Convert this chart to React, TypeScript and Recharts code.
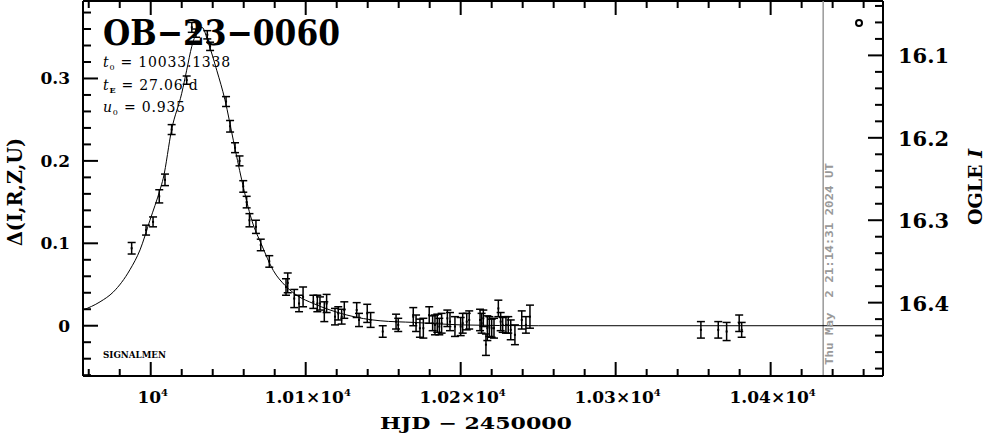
import React from "react";
import {
  ComposedChart,
  Line,
  Scatter,
  ErrorBar,
  XAxis,
  YAxis,
  ReferenceLine,
} from "recharts";

// observed points: HJD-2450000, delta flux, error
const obsT = [
  9987.7, 9997.0, 10001.5, 10005.5, 10009.2, 10013.5, 10023.2, 10026.5, 10029.2, 10036.5,
  10038.3, 10048.6, 10051.2, 10054.4, 10057.3, 10059.7, 10061.9, 10063.7, 10067.9, 10071.0,
  10076.5, 10087.3, 10088.4, 10092.6, 10095.7, 10098.3, 10104.9, 10107.5, 10109.2, 10112.0,
  10113.5, 10118.9, 10121.0, 10123.2, 10124.9, 10132.9, 10134.4, 10139.7, 10141.9, 10149.7,
  10158.3, 10159.7, 10169.4, 10171.2, 10173.7, 10175.9, 10179.7, 10181.9, 10183.4, 10184.9,
  10186.2, 10187.7, 10191.4, 10193.1, 10196.3, 10200.0, 10201.3, 10203.9, 10205.5, 10212.5,
  10213.5, 10214.6, 10216.3, 10217.2, 10218.5, 10220.0, 10221.5, 10224.3, 10225.8, 10227.1,
  10229.2, 10230.7, 10232.3, 10235.0, 10239.4, 10242.1, 10244.7, 10355.0, 10366.2, 10371.6,
  10379.7, 10381.3,
];
const obsD = [
  0.094, 0.116, 0.126, 0.157, 0.177, 0.238, 0.298, 0.362, 0.355, 0.353,
  0.339, 0.272, 0.242, 0.216, 0.2, 0.169, 0.15, 0.128, 0.12, 0.098,
  0.078, 0.047, 0.052, 0.033, 0.027, 0.035, 0.029, 0.027, 0.027, 0.017,
  0.027, 0.011, 0.015, 0.011, 0.019, 0.019, 0.007, 0.015, 0.007, -0.007,
  0.005, 0.001, 0.011, 0.003, -0.003, -0.003, 0.013, 0.003, 0.001, 0.003,
  -0.001, 0.003, 0.009, 0.005, -0.001, -0.001, 0.003, 0.005, 0.007, 0.007,
  0.003, 0.009, -0.023, -0.003, -0.001, -0.003, -0.003, 0.021, 0.005, 0.001,
  0.001, 0.001, -0.005, -0.011, 0.007, 0.001, 0.011, -0.005, -0.005, -0.007,
  0.003, -0.005,
];
const obsE = [
  0.007, 0.006, 0.006, 0.008, 0.007, 0.006, 0.005, 0.006, 0.005, 0.005,
  0.005, 0.006, 0.007, 0.006, 0.006, 0.007, 0.007, 0.008, 0.008, 0.007,
  0.007, 0.01, 0.012, 0.011, 0.01, 0.012, 0.008, 0.01, 0.008, 0.012,
  0.011, 0.01, 0.008, 0.009, 0.01, 0.009, 0.008, 0.011, 0.009, 0.007,
  0.009, 0.008, 0.011, 0.01, 0.011, 0.012, 0.01, 0.009, 0.012, 0.011,
  0.01, 0.012, 0.01, 0.011, 0.012, 0.011, 0.012, 0.01, 0.011, 0.013,
  0.012, 0.01, 0.013, 0.015, 0.012, 0.011, 0.012, 0.01, 0.011, 0.009,
  0.01, 0.01, 0.012, 0.012, 0.011, 0.01, 0.014, 0.01, 0.01, 0.011,
  0.01, 0.009,
];

// model curve
const modelT = [
  9956.3, 9967.3, 9975.9, 9986.6, 9993.1, 9999.5, 10006, 10008.1, 10013.5, 10020,
  10023.2, 10026.5, 10030.7, 10033.1, 10037.2, 10042.6, 10047.9, 10053.3, 10058.7, 10065.2,
  10071.6, 10079.1, 10086.6, 10095, 10104.9, 10126.5, 10148, 10170, 10200, 10250, 10472.5,
];
const modelD = [
  0.019, 0.029, 0.041, 0.068, 0.092, 0.128, 0.165, 0.179, 0.238, 0.282,
  0.31, 0.339, 0.359, 0.362, 0.343, 0.31, 0.274, 0.225, 0.177, 0.128,
  0.098, 0.067, 0.049, 0.036, 0.027, 0.013, 0.006, 0.004, 0.001, 0, 0,
];

const xTicks = [
  9960, 9980, 10000, 10020, 10040, 10060, 10080, 10100, 10120, 10140, 10160, 10180, 10200,
  10220, 10240, 10260, 10280, 10300, 10320, 10340, 10360, 10380, 10400, 10420, 10440, 10460,
];
const leftTicks = [
  -0.06, -0.04, -0.02, 0, 0.02, 0.04, 0.06, 0.08, 0.1, 0.12, 0.14, 0.16, 0.18, 0.2, 0.22,
  0.24, 0.26, 0.28, 0.3, 0.32, 0.34, 0.36, 0.38,
];
const rightTicks = [
  16.04, 16.06, 16.08, 16.1, 16.12, 16.14, 16.16, 16.18, 16.2, 16.22, 16.24, 16.26, 16.28,
  16.3, 16.32, 16.34, 16.36, 16.38, 16.4, 16.42, 16.44, 16.46, 16.48,
];

const W = 986;
const H = 434;
const PLOT = { left: 83, right: 883, top: 1, bottom: 376 };
const X_DOMAIN = [9956.3, 10472.5];
const Y_DOMAIN = [-0.061, 0.394];
const MAG_DOMAIN = [16.034, 16.489];
const SERIF = "'DejaVu Serif', serif";

const obs = obsT.map((t, i) => ({ t, d: obsD[i], e: obsE[i] }));
const model = modelT.map((t, i) => ({ t, d: modelD[i] }));

const isMajor = (v: number, step: number) =>
  Math.abs(v / step - Math.round(v / step)) < 1e-6;

function XTick({ x, payload }: any) {
  const v = payload.value;
  const major = isMajor(v, 100);
  const len = major ? 14 : 7;
  const mant = v === 10000 ? "10" : (v / 10000).toFixed(2) + "\u00d710";
  return (
    <g>
      <line x1={x} x2={x} y1={PLOT.bottom} y2={PLOT.bottom - len} stroke="#000" strokeWidth={2} />
      <line x1={x} x2={x} y1={PLOT.top} y2={PLOT.top + len} stroke="#000" strokeWidth={2} />
      {major && (
        <text x={x + 2} y={403} textAnchor="middle" fontFamily={SERIF} fontWeight="bold" fontSize={17} fill="#000">
          {mant}
          <tspan fontSize={10} dy={-7}>4</tspan>
        </text>
      )}
    </g>
  );
}

function LeftTick({ y, payload }: any) {
  const v = payload.value;
  const major = isMajor(v, 0.1);
  const len = major ? 15 : 8;
  return (
    <g>
      <line x1={PLOT.left} x2={PLOT.left + len} y1={y} y2={y} stroke="#000" strokeWidth={2} />
      {major && (
        <text x={70} y={y + 6} textAnchor="end" fontFamily={SERIF} fontWeight="bold" fontSize={17} fill="#000">
          {Math.abs(v) < 1e-9 ? "0" : v.toFixed(1)}
        </text>
      )}
    </g>
  );
}

function RightTick({ y, payload }: any) {
  const v = payload.value;
  const major = isMajor(v, 0.1);
  const len = major ? 15 : 8;
  return (
    <g>
      <line x1={PLOT.right - len} x2={PLOT.right} y1={y} y2={y} stroke="#000" strokeWidth={2} />
      {major && (
        <text x={898} y={y + 8} textAnchor="start" fontFamily={SERIF} fontWeight="bold" fontSize={21} fill="#000">
          {v.toFixed(1)}
        </text>
      )}
    </g>
  );
}

function PointMark({ cx, cy }: any) {
  return <rect x={cx - 1} y={cy - 1} width={2} height={2} fill="#000" />;
}

export default function App() {
  return (
    <div style={{ position: "absolute", left: 0, top: 0, width: W, height: H, background: "#fff" }}>
      <ComposedChart width={W} height={H} margin={{ top: PLOT.top, right: 0, bottom: 0, left: 0 }}>
        <XAxis
          dataKey="t"
          type="number"
          domain={X_DOMAIN}
          allowDataOverflow
          ticks={xTicks}
          interval={0}
          height={H - PLOT.bottom}
          tick={<XTick />}
          tickLine={false}
          axisLine={{ stroke: "#000", strokeWidth: 2 }}
        />
        <YAxis
          yAxisId="left"
          type="number"
          domain={Y_DOMAIN}
          allowDataOverflow
          ticks={leftTicks}
          interval={0}
          width={PLOT.left}
          tick={<LeftTick />}
          tickLine={false}
          axisLine={{ stroke: "#000", strokeWidth: 2 }}
        />
        <YAxis
          yAxisId="right"
          orientation="right"
          type="number"
          domain={MAG_DOMAIN}
          reversed
          allowDataOverflow
          ticks={rightTicks}
          interval={0}
          width={W - PLOT.right}
          tick={<RightTick />}
          tickLine={false}
          axisLine={{ stroke: "#000", strokeWidth: 2 }}
        />
        <ReferenceLine yAxisId="left" y={Y_DOMAIN[1]} stroke="#000" strokeWidth={2} />
        <ReferenceLine yAxisId="left" x={10433.9} stroke="#999" strokeWidth={1.5} />
        <Line
          yAxisId="left"
          data={model}
          dataKey="d"
          type="monotone"
          stroke="#000"
          strokeWidth={1}
          dot={false}
          isAnimationActive={false}
        />
        <Scatter yAxisId="left" data={obs} dataKey="d" shape={<PointMark />} isAnimationActive={false}>
          <ErrorBar dataKey="e" direction="y" width={4} stroke="#000" strokeWidth={1.5} isAnimationActive={false} />
        </Scatter>
      </ComposedChart>
      <svg width={W} height={H} style={{ position: "absolute", left: 0, top: 0, pointerEvents: "none" }}>
        <text x={103} y={45} fontFamily={SERIF} fontWeight="bold" fontSize={36} textLength={237} lengthAdjust="spacingAndGlyphs">
          OB{"\u2212"}23{"\u2212"}0060
        </text>
        <text x={103} y={67} fontFamily={SERIF} fontSize={14} letterSpacing={0.8}>
          <tspan fontStyle="italic">t</tspan>
          <tspan fontSize={8} dy={3}>0</tspan>
          <tspan dy={-3}> = 10033.1338</tspan>
        </text>
        <text x={103} y={90} fontFamily={SERIF} fontSize={14} letterSpacing={0.8}>
          <tspan fontStyle="italic">t</tspan>
          <tspan fontSize={8} dy={3} fontWeight="bold">E</tspan>
          <tspan dy={-3}> = 27.06 d</tspan>
        </text>
        <text x={103} y={112} fontFamily={SERIF} fontSize={14} letterSpacing={0.8}>
          <tspan fontStyle="italic">u</tspan>
          <tspan fontSize={8} dy={3}>0</tspan>
          <tspan dy={-3}> = 0.935</tspan>
        </text>
        <text x={103} y={358} fontFamily={SERIF} fontWeight="bold" fontSize={9} textLength={63} lengthAdjust="spacingAndGlyphs">
          SIGNALMEN
        </text>
        <text
          transform="translate(22,192) rotate(-90)"
          textAnchor="middle"
          fontFamily={SERIF}
          fontWeight="bold"
          fontSize={20}
          textLength={108}
          lengthAdjust="spacingAndGlyphs"
        >
          {"\u0394(I,R,Z,U)"}
        </text>
        <text
          transform="translate(982,187) rotate(-90)"
          textAnchor="middle"
          fontFamily={SERIF}
          fontWeight="bold"
          fontSize={19}
        >
          OGLE <tspan fontStyle="italic">I</tspan>
        </text>
        <text x={476} y={429} textAnchor="middle" fontFamily={SERIF} fontWeight="bold" fontSize={17} textLength={192} lengthAdjust="spacingAndGlyphs">
          HJD {"\u2212"} 2450000
        </text>
        <text
          transform="translate(833,365) rotate(-90)"
          fontFamily="'DejaVu Sans Mono', monospace"
          fontWeight="bold"
          fontSize={10}
          fill="#999"
          style={{ whiteSpace: "pre" }}
          textLength={202}
          lengthAdjust="spacingAndGlyphs"
        >
          Thu May  2 21:14:31 2024 UT
        </text>
        <circle cx={859} cy={23} r={3} fill="#fff" stroke="#000" strokeWidth={2} />
      </svg>
    </div>
  );
}
